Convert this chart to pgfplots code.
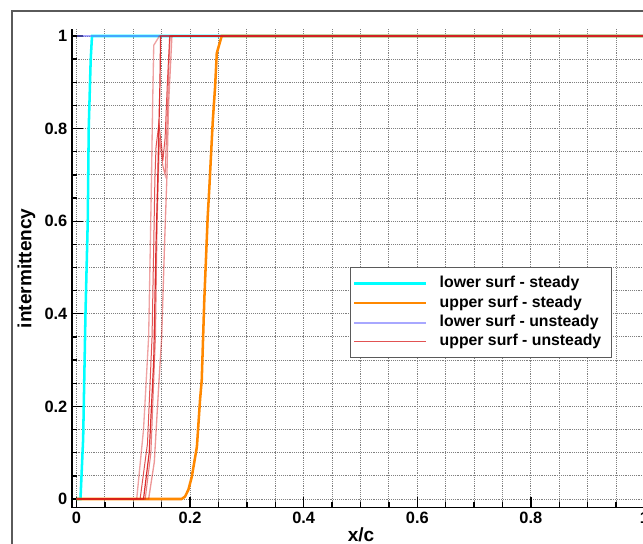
\documentclass[border=0pt]{standalone}
\usepackage{fontspec}
\setmainfont{Liberation Sans}
\usepackage{pgfplots}
\pgfplotsset{compat=1.18}

\definecolor{steadylow}{RGB}{0,255,255}
\definecolor{steadyup}{RGB}{255,136,0}
\definecolor{unslow}{RGB}{110,110,255}
\definecolor{unsup}{RGB}{215,25,25}
\definecolor{framegray}{RGB}{90,90,90}

\begin{document}
\begin{tikzpicture}
\begin{axis}[
  x=426pt, y=347.25pt,
  xmin=-0.0079, xmax=1.01, ymin=-0.0184, ymax=1.015,
  axis x line*=bottom, axis y line*=left,
  axis line style={-, line width=1.2pt, black},
  xtick={0,0.2,0.4,0.6,0.8,1}, ytick={0,0.2,0.4,0.6,0.8,1},
  minor tick num=3,
  tick align=inside,
  major tick length=8pt, minor tick length=4pt,
  tick style={black, line width=1pt},
  grid=both,
  major grid style={densely dotted, gray, line width=0.7pt},
  minor grid style={densely dotted, gray, line width=0.7pt},
  /pgf/number format/assume math mode=true,
  ticklabel style={font=\fontsize{12.3}{12.3}\selectfont\bfseries},
  xlabel={x/c}, ylabel={intermittency},
  label style={font=\fontsize{14.3}{14.3}\selectfont\bfseries},
  xlabel style={yshift=4pt},
  legend style={at={(axis cs:0.4815,0.5004)}, anchor=north west,
    draw=framegray, line width=0.8pt, fill=white,
    font=\fontsize{11.85}{11.85}\selectfont\bfseries,
    inner xsep=2pt, inner ysep=4.5pt, row sep=0pt, column sep=7pt,
    nodes={text height=9pt, text depth=3pt, inner ysep=1.3pt}},
  legend cell align=left,
  legend image code/.code={\draw[#1] (0pt,0pt) -- (54pt,0pt);},
]
% steady solutions
\addplot[steadylow, line width=1.9pt] coordinates {
  (0,0) (0.007,0) (0.0117,0.13) (0.0158,0.4) (0.0198,0.6) (0.0215,0.8)
  (0.025,0.95) (0.0273,1) (1,1)};
\addlegendentry{lower surf - steady\hspace*{4pt}}
\addplot[steadyup, line width=1.9pt] coordinates {
  (0,0) (0.185,0) (0.191,0.005) (0.197,0.02) (0.203,0.048) (0.212,0.113)
  (0.2175,0.214) (0.2205,0.257) (0.225,0.43) (0.231,0.61) (0.234,0.675)
  (0.237,0.747) (0.240,0.818) (0.244,0.89) (0.247,0.963) (0.2556,1) (1,1)};
\addlegendentry{upper surf - steady}
% unsteady solutions, several instants
\addplot[unslow, opacity=0.6, line width=1.5pt] coordinates {(0,1) (1,1)};
\addlegendentry{lower surf - unsteady}
\addplot[unsup, opacity=0.75, line width=0.75pt] coordinates {
  (0,0) (0.112,0) (0.125,0.12) (0.133,0.35) (0.136,0.55) (0.138,0.69)
  (0.140,0.76) (0.145,0.81) (0.150,0.76) (0.152,0.73) (0.156,0.78)
  (0.160,0.9) (0.164,1) (1,1)};
\addlegendentry{upper surf - unsteady\hspace*{4pt}}
\addplot[unsup, opacity=0.4, line width=1pt, forget plot] coordinates {
  (0,0) (0.106,0) (0.118,0.15) (0.127,0.35) (0.130,0.55) (0.132,0.69)
  (0.134,0.85) (0.136,0.98) (0.146,1) (1,1)};
\addplot[unsup, opacity=0.9, line width=0.9pt, forget plot] coordinates {
  (0,0) (0.118,0) (0.128,0.1) (0.136,0.3) (0.140,0.55) (0.143,0.69)
  (0.145,0.8) (0.147,0.9) (0.148,1) (1,1)};
\addplot[unsup, opacity=0.55, line width=0.8pt, forget plot] coordinates {
  (0,0) (0.121,0) (0.131,0.1) (0.139,0.35) (0.142,0.6) (0.146,0.78)
  (0.152,0.72) (0.156,0.70) (0.159,0.8) (0.163,0.95) (0.165,1) (1,1)};
\addplot[unsup, opacity=0.45, line width=1pt, forget plot] coordinates {
  (0,0) (0.127,0) (0.137,0.08) (0.145,0.25) (0.150,0.35) (0.155,0.55)
  (0.159,0.69) (0.162,0.85) (0.166,0.95) (0.168,1) (1,1)};
% page frame and visible extent
\coordinate (frSW) at (axis cs:-0.1136,-0.3);
\coordinate (frNW) at (axis cs:-0.1136,1.054);
\coordinate (frNE) at (axis cs:1.3,1.054);
\coordinate (bbSW) at (axis cs:-0.1347,-0.0972);
\coordinate (bbNE) at (axis cs:0.9974,1.0778);
\end{axis}
\draw[framegray, line width=1pt] (frSW) -- (frNW) -- (frNE);
\pgfresetboundingbox
\useasboundingbox (bbSW) rectangle (bbNE);
\end{tikzpicture}
\end{document}
